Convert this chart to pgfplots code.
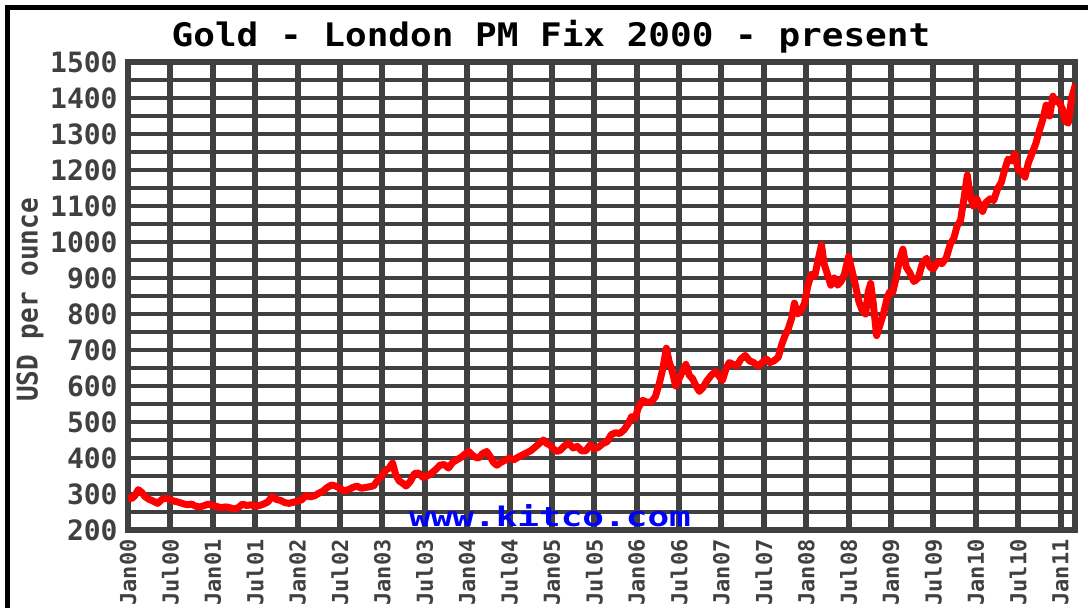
\documentclass[border=0pt]{standalone}
\usepackage{pgfplots}
\pgfplotsset{compat=1.18}
\usepackage{graphicx}
\usepackage{fontspec}
\newfontfamily\mono{DejaVu Sans Mono}
\definecolor{gridgray}{RGB}{64,64,64}
\definecolor{kred}{RGB}{255,0,0}
\definecolor{kblue}{RGB}{0,0,255}
\pgfplotstableread{
x y
0.00 290
0.04 287
0.08 295
0.12 312
0.16 305
0.20 293
0.25 285
0.30 280
0.35 274
0.40 285
0.45 289
0.50 283
0.55 280
0.60 277
0.65 273
0.70 270
0.75 272
0.80 266
0.85 264
0.90 268
0.95 272
1.00 268
1.05 265
1.10 262
1.15 264
1.20 262
1.25 258
1.30 262
1.35 272
1.40 268
1.45 270
1.50 266
1.55 268
1.60 272
1.65 278
1.70 293
1.75 285
1.80 282
1.85 276
1.90 274
1.95 277
2.00 280
2.05 284
2.10 296
2.15 292
2.20 295
2.25 302
2.30 308
2.35 318
2.40 325
2.45 322
2.50 316
2.55 308
2.60 312
2.65 318
2.70 322
2.75 316
2.80 318
2.85 320
2.90 323
2.95 340
3.00 352
3.04 366
3.08 372
3.12 386
3.16 352
3.20 336
3.24 330
3.28 322
3.33 335
3.38 357
3.43 358
3.48 346
3.53 350
3.58 358
3.63 368
3.68 380
3.73 382
3.78 372
3.83 388
3.88 395
3.93 402
3.98 412
4.02 418
4.06 408
4.10 402
4.14 400
4.18 412
4.23 418
4.27 405
4.31 388
4.35 380
4.40 388
4.45 394
4.50 400
4.55 395
4.60 402
4.65 408
4.70 414
4.75 420
4.80 430
4.85 440
4.90 450
4.94 440
4.98 436
5.02 424
5.06 418
5.10 422
5.15 434
5.20 440
5.25 428
5.30 432
5.35 420
5.40 420
5.45 436
5.50 425
5.55 430
5.60 440
5.65 445
5.70 465
5.75 470
5.80 468
5.85 478
5.90 495
5.94 515
5.98 510
6.02 540
6.07 560
6.12 555
6.17 555
6.22 570
6.27 610
6.31 650
6.35 705
6.38 670
6.42 640
6.46 600
6.50 620
6.55 645
6.58 660
6.62 630
6.66 620
6.70 600
6.74 585
6.78 595
6.83 615
6.88 630
6.93 640
6.97 628
7.01 615
7.05 645
7.09 665
7.14 660
7.18 655
7.23 675
7.28 685
7.33 670
7.38 665
7.43 655
7.48 665
7.53 675
7.57 665
7.62 670
7.67 680
7.71 715
7.75 740
7.79 760
7.83 790
7.86 830
7.90 800
7.94 810
7.98 830
8.02 880
8.06 910
8.10 905
8.14 950
8.18 992
8.21 940
8.25 910
8.29 880
8.33 900
8.37 880
8.41 890
8.45 910
8.50 960
8.54 920
8.58 880
8.62 835
8.66 810
8.70 800
8.73 860
8.76 885
8.79 830
8.83 740
8.87 770
8.91 800
8.95 840
8.98 860
9.02 860
9.06 900
9.10 950
9.14 980
9.18 930
9.22 915
9.27 890
9.32 900
9.37 940
9.42 955
9.46 930
9.50 925
9.55 945
9.60 940
9.65 955
9.70 995
9.74 1010
9.78 1045
9.82 1060
9.86 1120
9.90 1186
9.93 1130
9.97 1100
10.01 1120
10.05 1100
10.08 1085
10.12 1110
10.17 1120
10.21 1115
10.26 1150
10.30 1165
10.34 1200
10.38 1230
10.42 1225
10.46 1245
10.50 1200
10.54 1195
10.58 1180
10.62 1220
10.67 1250
10.71 1275
10.75 1310
10.79 1340
10.83 1380
10.87 1350
10.91 1405
10.94 1390
10.98 1390
11.02 1370
11.06 1335
11.09 1330
11.13 1400
11.17 1433
}\goldtable
\begin{document}
\begin{tikzpicture}
\begin{axis}[
  at={(64pt,39pt)}, anchor=south west,
  scale only axis, width=473.5pt, height=234pt,
  xmin=0, xmax=11.17, ymin=200, ymax=1500,
  axis background/.style={fill=white},
  axis line style={gridgray, line width=2.6pt},
  major tick length=0pt, minor tick length=0pt,
  xtick={0,0.5,1,1.5,2,2.5,3,3.5,4,4.5,5,5.5,6,6.5,7,7.5,8,8.5,9,9.5,10,10.5,11},
  xticklabels={Jan00,Jul00,Jan01,Jul01,Jan02,Jul02,Jan03,Jul03,Jan04,Jul04,Jan05,Jul05,Jan06,Jul06,Jan07,Jul07,Jan08,Jul08,Jan09,Jul09,Jan10,Jul10,Jan11},
  ytick={200,300,400,500,600,700,800,900,1000,1100,1200,1300,1400,1500},
  yticklabels={200,300,400,500,600,700,800,900,1000,1100,1200,1300,1400,1500},
  minor ytick={250,350,450,550,650,750,850,950,1050,1150,1250,1350,1450},
  xmajorgrids, ymajorgrids, yminorgrids,
  major x grid style={gridgray, line width=3pt},
  major y grid style={gridgray, line width=2.2pt},
  minor y grid style={gridgray, line width=2.2pt},
  xticklabel style={rotate=90, anchor=east, inner sep=0pt, font=\mono\bfseries\fontsize{11}{12}\selectfont, text=gridgray},
  xticklabel shift=4.5pt,
  yticklabel style={anchor=east, inner sep=0pt, font=\mono\bfseries\fontsize{14}{15}\selectfont, text=gridgray},
  yticklabel shift=5pt,
]
\addplot[kred, line width=3.5pt, line join=round, line cap=round, mark=none] table[x=x, y=y] {\goldtable};
\end{axis}
\node[anchor=base, text=kblue, inner sep=0pt] at (275pt,40.5pt) {\scalebox{1}[0.75]{\mono\bfseries\fontsize{18}{19}\selectfont www.kitco.com}};
\node[text=black, inner sep=0pt] at (275.5pt,285.5pt) {\scalebox{1}[0.9]{\mono\bfseries\fontsize{18}{19}\selectfont Gold - London PM Fix 2000 - present}};
\node[rotate=90, text=gridgray, inner sep=0pt] at (15pt,154pt) {\scalebox{1}[1.1]{\mono\bfseries\fontsize{13}{14}\selectfont USD per ounce}};
\draw[black, line width=2.5pt] (3.75pt,0pt) |- (544pt,300.25pt);
\pgfresetboundingbox
\path[use as bounding box] (0pt,0pt) rectangle (544pt,304pt);
\end{tikzpicture}
\end{document}
